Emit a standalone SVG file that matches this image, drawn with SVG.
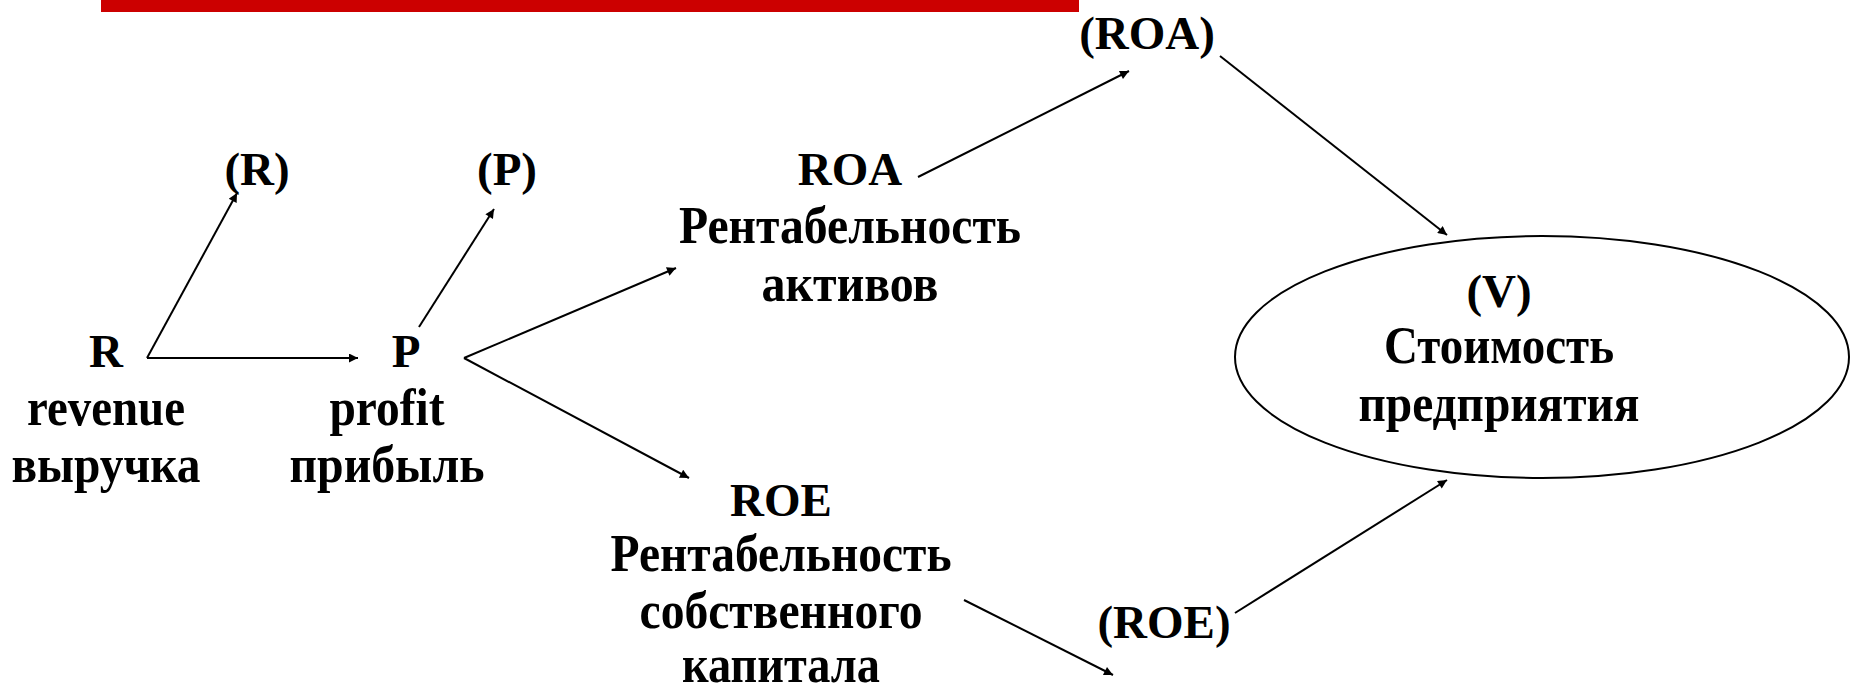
<svg xmlns="http://www.w3.org/2000/svg" width="1851" height="692" viewBox="0 0 1851 692">
<style>
text{font-family:"Liberation Serif","Times New Roman",serif;font-weight:bold;font-size:47px;fill:#000;text-anchor:middle}
text.l{font-size:52px}
.c line{stroke:#000;stroke-width:2;marker-end:url(#ah)}
</style>
<defs>
<marker id="ah" viewBox="0 0 10 10" refX="10" refY="5" markerWidth="6.5" markerHeight="4.5" markerUnits="strokeWidth" orient="auto">
<path d="M0,0 L10,5 L0,10 z" fill="#000"/>
</marker>
</defs>
<rect x="101" y="0" width="978" height="12" fill="#cc0000"/>
<g id="nR"><text x="106" y="367">R</text><text class="l" x="106" y="425" textLength="158" lengthAdjust="spacingAndGlyphs">revenue</text><text class="l" x="106" y="482" textLength="189" lengthAdjust="spacingAndGlyphs">выручка</text></g>
<g id="nRp"><text x="257" y="185">(R)</text></g>
<g id="nP"><text x="406" y="367">P</text><text class="l" x="387" y="425" textLength="115" lengthAdjust="spacingAndGlyphs">profit</text><text class="l" x="387" y="482" textLength="195" lengthAdjust="spacingAndGlyphs">прибыль</text></g>
<g id="nPp"><text x="507" y="185">(P)</text></g>
<g id="nROA"><text x="850" y="185">ROA</text><text class="l" x="850" y="243" textLength="342" lengthAdjust="spacingAndGlyphs">Рентабельность</text><text class="l" x="850" y="301" textLength="177" lengthAdjust="spacingAndGlyphs">активов</text></g>
<g id="nROAp"><text x="1147" y="49">(ROA)</text></g>
<g id="nROE"><text x="781" y="516">ROE</text><text class="l" x="781" y="571" textLength="341" lengthAdjust="spacingAndGlyphs">Рентабельность</text><text class="l" x="781" y="628" textLength="283" lengthAdjust="spacingAndGlyphs">собственного</text><text class="l" x="781" y="682" textLength="198" lengthAdjust="spacingAndGlyphs">капитала</text></g>
<g id="nROEp"><text x="1164" y="638">(ROE)</text></g>
<g id="nV"><ellipse cx="1542" cy="357" rx="307" ry="121" fill="none" stroke="#000" stroke-width="2"/><text x="1499" y="307">(V)</text><text class="l" x="1499" y="363" textLength="230" lengthAdjust="spacingAndGlyphs">Стоимость</text><text class="l" x="1499" y="421" textLength="281" lengthAdjust="spacingAndGlyphs">предприятия</text></g>
<g class="c" id="connectors">
<line x1="147" y1="358" x2="237" y2="193"/>
<line x1="147" y1="358" x2="358" y2="358"/>
<line x1="419" y1="327" x2="494" y2="209"/>
<line x1="464" y1="358" x2="676" y2="268"/>
<line x1="464" y1="358" x2="689" y2="478"/>
<line x1="918" y1="177" x2="1129" y2="71"/>
<line x1="1220" y1="56" x2="1447" y2="235"/>
<line x1="964" y1="600" x2="1113" y2="675"/>
<line x1="1235" y1="613" x2="1447" y2="480"/>
</g>
</svg>
